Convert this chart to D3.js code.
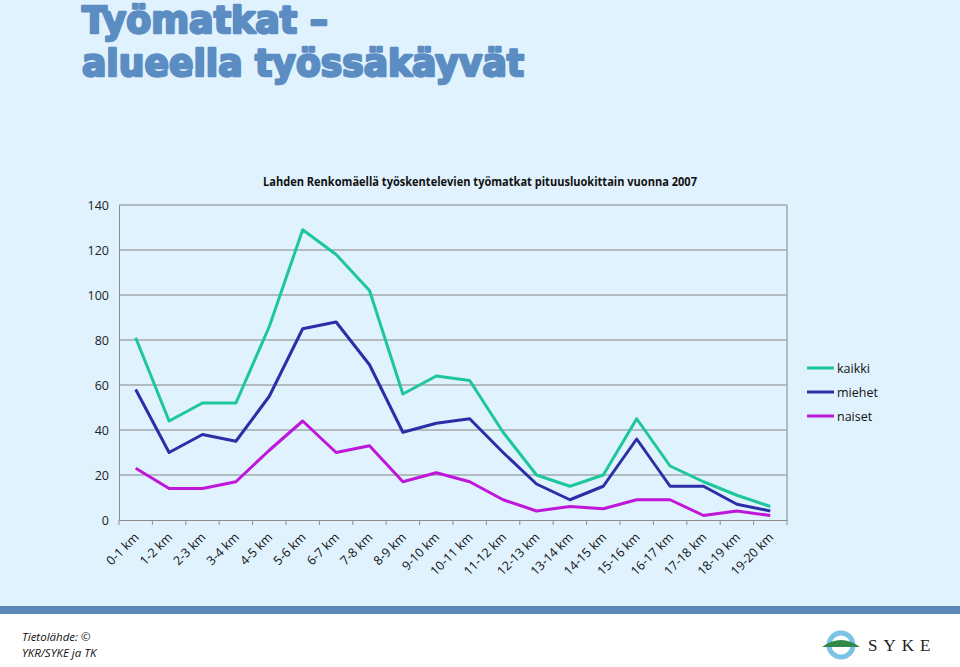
<!DOCTYPE html>
<html><head><meta charset="utf-8">
<script src="https://cdn.jsdelivr.net/npm/d3@7"></script>
<style>html,body{margin:0;padding:0;background:#fff;}svg{display:block;}</style>
</head><body>
<svg id="c" width="960" height="667"></svg>
<script>
const categories = ["0-1 km","1-2 km","2-3 km","3-4 km","4-5 km","5-6 km","6-7 km","7-8 km","8-9 km","9-10 km","10-11 km","11-12 km","12-13 km","13-14 km","14-15 km","15-16 km","16-17 km","17-18 km","18-19 km","19-20 km"];
const kaikki = [81,44,52,52,86,129,118,102,56,64,62,39,20,15,20,45,24,17,11,6];
const miehet = [58,30,38,35,55,85,88,69,39,43,45,30,16,9,15,36,15,15,7,4];
const naiset = [23,14,14,17,31,44,30,33,17,21,17,9,4,6,5,9,9,2,4,2];
const seriesNames = ["kaikki","miehet","naiset"];
const seriesColors = ["#1dc69c","#2b2ea6","#bf17d9"];
const yTicks = [0,20,40,60,80,100,120,140];

const svg = d3.select("#c");
svg.append("rect").attr("x",0).attr("y",0).attr("width",960).attr("height",606).attr("fill","#e0f2fd");
svg.append("rect").attr("x",0).attr("y",606).attr("width",960).attr("height",8).attr("fill","#5a87b6");

// Slide title
const tcol = "#5b8cc2";
svg.append("text").attr("x",82).attr("y",33).text("Työmatkat –")
  .attr("font-family","DejaVu Sans").attr("font-weight","bold").attr("font-size",38)
  .attr("fill",tcol).attr("stroke",tcol).attr("stroke-width",2.5).attr("stroke-linejoin","round")
  .attr("textLength",246).attr("lengthAdjust","spacingAndGlyphs");
svg.append("text").attr("x",82).attr("y",76).text("alueella työssäkäyvät")
  .attr("font-family","DejaVu Sans").attr("font-weight","bold").attr("font-size",38)
  .attr("fill",tcol).attr("stroke",tcol).attr("stroke-width",2.5).attr("stroke-linejoin","round")
  .attr("textLength",442).attr("lengthAdjust","spacingAndGlyphs");

const L = 119, R = 787, T = 205, B = 520;
const x = d3.scaleBand().domain(categories).range([L,R]);
const y = d3.scaleLinear().domain([0,140]).range([B,T]);

// chart title
svg.append("text").attr("x",480).attr("y",186).attr("text-anchor","middle")
  .attr("font-family","Open Sans").attr("font-weight","bold").attr("font-size",12.5).attr("fill","#111")
  .attr("textLength",434).attr("lengthAdjust","spacingAndGlyphs")
  .text("Lahden Renkomäellä työskentelevien työmatkat pituusluokittain vuonna 2007");

// gridlines
svg.append("g").selectAll("line").data(yTicks.filter(d=>d>0)).join("line")
  .attr("x1",L).attr("x2",R).attr("y1",d=>y(d)).attr("y2",d=>y(d))
  .attr("stroke","#a3a8ab").attr("stroke-width",1.5);
svg.append("line").attr("x1",R).attr("x2",R).attr("y1",T).attr("y2",B).attr("stroke","#a3a8ab").attr("stroke-width",1.5);

// y axis
const ya = svg.append("g").attr("transform",`translate(${L},0)`)
  .call(d3.axisLeft(y).tickValues(yTicks).tickSize(0).tickPadding(10));
ya.select(".domain").attr("stroke","#8c8c8c");
ya.selectAll("text").attr("font-family","Open Sans").attr("font-size",12.5).attr("fill","#222");

// x axis
const xa = svg.append("g").attr("transform",`translate(0,${B})`)
  .call(d3.axisBottom(x).tickSize(0).tickFormat(""));
xa.select(".domain").attr("stroke","#8c8c8c");
svg.append("g").selectAll("line").data(categories.concat(["__end"])).join("line")
  .attr("x1",(d,i)=>L + i*x.step()).attr("x2",(d,i)=>L + i*x.step())
  .attr("y1",B).attr("y2",B+5).attr("stroke","#8c8c8c");
svg.append("g").selectAll("text").data(categories).join("text")
  .attr("transform",d=>`translate(${x(d)+x.bandwidth()/2+4},${B+18}) rotate(-45)`)
  .attr("text-anchor","end").attr("font-family","Open Sans").attr("font-size",12.5).attr("fill","#111")
  .text(d=>d);

// lines
const allSeries = [kaikki, miehet, naiset];
const line = d3.line().x((d,i)=>x(categories[i])+x.bandwidth()/2).y(d=>y(d));
allSeries.forEach((s,k)=>{
  svg.append("path").datum(s).attr("d",line).attr("fill","none")
    .attr("stroke",seriesColors[k]).attr("stroke-width",3).attr("stroke-linejoin","round");
});

// legend
const lg = svg.append("g");
seriesNames.forEach((n,k)=>{
  const yy = 368 + k*24;
  lg.append("line").attr("x1",807).attr("x2",834).attr("y1",yy).attr("y2",yy)
    .attr("stroke",seriesColors[k]).attr("stroke-width",3);
  lg.append("text").attr("x",837).attr("y",yy+4.5).attr("font-family","Open Sans").attr("font-size",12.5)
    .attr("fill","#111").text(n);
});

// footer
svg.append("text").attr("x",22).attr("y",641).attr("font-family","Open Sans").attr("font-style","italic")
  .attr("font-size",11.5).attr("fill","#111").text("Tietolähde: ©");
svg.append("text").attr("x",22).attr("y",657).attr("font-family","Open Sans").attr("font-style","italic")
  .attr("font-size",11.5).attr("fill","#111").text("YKR/SYKE ja TK");

// SYKE logo
const lgx = 841, lgy = 645;
svg.append("circle").attr("cx",lgx).attr("cy",lgy).attr("r",12).attr("fill","none").attr("stroke","#7cc3e6").attr("stroke-width",5);
svg.append("path").attr("d",`M${lgx-19},${lgy+2} Q${lgx},${lgy-12} ${lgx+19},${lgy+2} Z`).attr("fill","#2f8a4a");
svg.append("text").attr("x",868).attr("y",651).attr("font-family","Liberation Serif").attr("font-size",17)
  .attr("fill","#222").attr("letter-spacing",6).text("SYKE");
</script>
</body></html>
